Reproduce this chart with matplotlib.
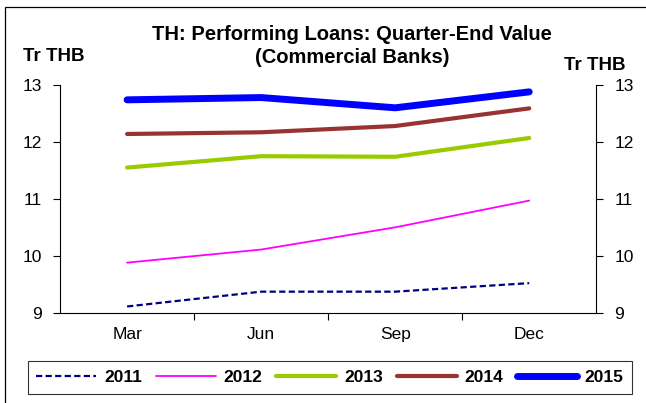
#!/usr/bin/env python3
"""TH performing loans, quarter-end value (commercial banks), 2011-2015."""

import matplotlib
matplotlib.use('Agg')
import matplotlib.pyplot as plt
from matplotlib.patches import Rectangle

plt.rcParams['font.family'] = ['Liberation Sans', 'DejaVu Sans']

quarters = ['Mar', 'Jun', 'Sep', 'Dec']
years = ['2011', '2012', '2013', '2014', '2015']
loans_2011 = [9.11, 9.37, 9.37, 9.52]
loans_2012 = [9.88, 10.11, 10.50, 10.97]
loans_2013 = [11.55, 11.75, 11.74, 12.07]
loans_2014 = [12.14, 12.17, 12.28, 12.59]
loans_2015 = [12.74, 12.78, 12.60, 12.88]
y_ticks = [9, 10, 11, 12, 13]

series = [loans_2011, loans_2012, loans_2013, loans_2014, loans_2015]
styles = [
    dict(color='#000080', linewidth=1.6, linestyle=(0, (2.8, 1.5))),
    dict(color='#FF00FF', linewidth=1.3),
    dict(color='#99CC00', linewidth=3.0),
    dict(color='#993333', linewidth=3.0),
    dict(color='#0000FF', linewidth=5.0),
]

fig = plt.figure(figsize=(6.46, 4.03), dpi=100)
ax = fig.add_axes([0.093, 0.224, 0.830, 0.565])

x = range(len(quarters))
for vals, year, st in zip(series, years, styles):
    ax.plot(x, vals, label=year, solid_capstyle='round', **st)

ax.set_xlim(-0.5, len(quarters) - 0.5)
ax.set_ylim(9, 13)
ax.set_yticks(y_ticks)
ax.set_xticks([i + 0.5 for i in range(len(quarters) - 1)])
ax.set_xticklabels([])
ax.set_xticks(list(x), minor=True)
ax.set_xticklabels(quarters, minor=True)
ax.tick_params(axis='x', which='minor', length=0, labelsize=12.5, pad=10)
ax.tick_params(axis='x', which='major', length=5, direction='out')
ax.tick_params(axis='y', which='major', direction='out', length=5,
               left=True, right=True, labelleft=True, labelright=True,
               labelsize=12.5, pad=8)
ax.spines['top'].set_visible(False)
for s in ['left', 'right', 'bottom']:
    ax.spines[s].set_linewidth(0.8)

fig.text(0.545, 0.915, 'TH: Performing Loans: Quarter-End Value',
         ha='center', va='center', fontsize=14.5, fontweight='bold')
fig.text(0.545, 0.858, '(Commercial Banks)',
         ha='center', va='center', fontsize=14.5, fontweight='bold')
fig.text(0.036, 0.860, 'Tr THB', ha='left', va='center',
         fontsize=13.5, fontweight='bold')
fig.text(0.968, 0.837, 'Tr THB', ha='right', va='center',
         fontsize=13.5, fontweight='bold')

leg = fig.legend(loc='center', bbox_to_anchor=(0.511, 0.063), ncol=5,
                 frameon=True, fancybox=False, edgecolor='black',
                 handlelength=3.45, columnspacing=0.8, handletextpad=0.45,
                 prop={'weight': 'bold', 'size': 12.5}, borderpad=0.5)
leg.get_frame().set_linewidth(0.8)

# outer chart frame
fig.patches.append(Rectangle((0.007, -0.02), 1.1, 1.0025, transform=fig.transFigure,
                             fill=False, edgecolor='black', linewidth=0.9))

fig.savefig('out.png', dpi=100)
